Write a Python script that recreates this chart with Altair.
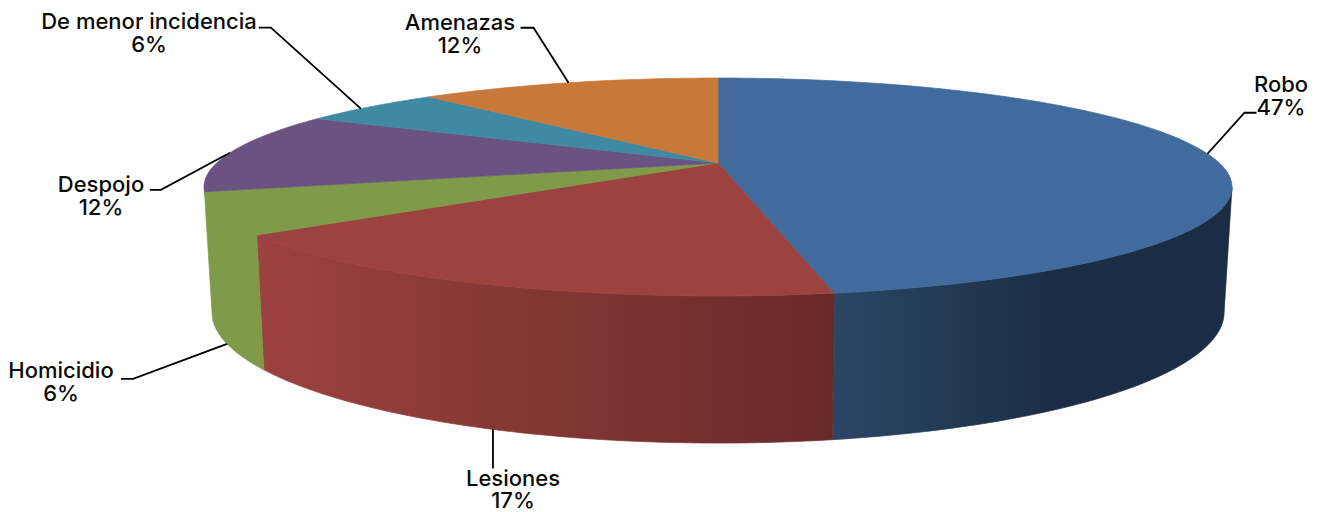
import math
import altair as alt
import pandas as pd

# ---- values
names = ["Robo", "Lesiones", "Homicidio", "Despojo", "De menor incidencia", "Amenazas"]
shown_pct = ["47%", "17%", "6%", "12%", "6%", "12%"]
shares = [47.1, 17.6, 6.1, 12.0, 5.5, 11.7]

# ---- styles
top_colors = ["#406B9C", "#9C4240", "#7F9A48", "#6A5282", "#3F89A2", "#C8793A"]
FONT = "Inter"
FONT_SIZE = 22
CX, CY = 718, 163         # apex of the pie on the page
TOP = (163, -67.8, 501.4)  # A, B, S of the top rim projection
BOT = (283.2, -62.3, 493.7)  # same for the lower rim
PERSP = 0.2202
# small shift of each leader's anchor along the rim, in percent of the pie
anchor_shift = [0, 0, 0, -0.2, -0.45, 0]
# leader: elbow relative to the rim anchor, end relative to the elbow
leader_elbow = [(37, -41), (0, 39), (-94, 35), (-69, 37), (-90, -81), (-35, -55)]
leader_end = [(12, 0), (0, 0), (-12, 0), (-11, 0), (-12, 0), (-13, 0)]
label_at = [(1281, 85), (513, 478.5), (61, 371), (101, 185), (149, 22), (460, 23)]
line_gap = 22.5


def rim(pct, plane):
    a, b, s = plane
    t = math.radians(pct * 3.6)
    u, v = math.sin(t), math.cos(t)
    w = 1 + PERSP * v
    return CX + s * u / w, (a + b * v) / w


def arc_pts(p0, p1, plane):
    n = max(2, int(abs(p1 - p0) * 3) + 2)
    return [rim(p0 + (p1 - p0) * i / (n - 1), plane) for i in range(n)]


def frame(pts):
    return pd.DataFrame([{"x": x, "y": y, "o": i} for i, (x, y) in enumerate(pts)])


cum = [0]
for s in shares:
    cum.append(cum[-1] + s)

x_scale = alt.Scale(domain=[8, 1319], range=[0, 1311], nice=False, zero=False)
y_scale = alt.Scale(domain=[512, 8], nice=False, zero=False)
X = alt.X("x:Q", scale=x_scale, axis=None)
Y = alt.Y("y:Q", scale=y_scale, axis=None)
O = alt.Order("o:Q")


def poly(pts, fill):
    closed = pts + [pts[0]]
    return alt.Chart(frame(closed)).mark_line(
        fill=fill, stroke=fill, strokeWidth=0.7, strokeJoin="round", clip=False
    ).encode(x=X, y=Y, order=O)


def grad(stops):
    return alt.Gradient(gradient="linear", x1=0, y1=0, x2=1, y2=0,
                        stops=[alt.GradientStop(offset=o, color=c) for o, c in stops])


layers = []
# side walls, visible front part only
side_start = math.degrees(math.acos(-PERSP)) / 3.6
sides = [
    (side_start, cum[1], grad([(0, "#2C4664"), (0.55, "#1B2E46"), (1, "#1A2D44")])),
    (cum[1], cum[2], grad([(0, "#9C4240"), (1, "#682A28")])),
    (cum[2], cum[3], "#7F9A48"),
]
for p0, p1, fill in sides:
    layers.append(poly(arc_pts(p0, p1, TOP) + arc_pts(p1, p0, BOT), fill))

# top faces
for i, col in enumerate(top_colors):
    layers.append(poly([(CX, CY)] + arc_pts(cum[i], cum[i + 1], TOP), col))

# leaders and labels
rows = []
for i, n in enumerate(names):
    mid = (cum[i] + cum[i + 1]) / 2 + anchor_shift[i]
    plane = BOT if n in ("Lesiones", "Homicidio") else TOP
    ax, ay = rim(mid, plane)
    ex, ey = ax + leader_elbow[i][0], ay + leader_elbow[i][1]
    fx, fy = ex + leader_end[i][0], ey + leader_end[i][1]
    for k, (x, y) in enumerate([(ax, ay), (ex, ey), (fx, fy)]):
        rows.append({"x": x, "y": y, "o": k, "s": n})
layers.append(alt.Chart(pd.DataFrame(rows)).mark_line(color="#000000", strokeWidth=1.8, clip=False).encode(
    x=X, y=Y, order=O, detail="s:N"))

text_rows = []
for i, n in enumerate(names):
    lx, ly = label_at[i]
    text_rows.append({"x": lx, "y": ly, "t": n})
    text_rows.append({"x": lx, "y": ly + line_gap, "t": shown_pct[i]})
layers.append(alt.Chart(pd.DataFrame(text_rows)).mark_text(
    font=FONT, fontSize=FONT_SIZE, fontWeight=500, color="#0A0A0A", align="center", baseline="middle", clip=False
).encode(x=X, y=Y, text="t:N"))

chart = alt.layer(*layers).properties(
    width=1311, height=504, padding=0, autosize=alt.AutoSizeParams(type="none")
).configure_view(stroke=None)

chart.save("out.html", embed_options={"renderer": "svg", "actions": False})
